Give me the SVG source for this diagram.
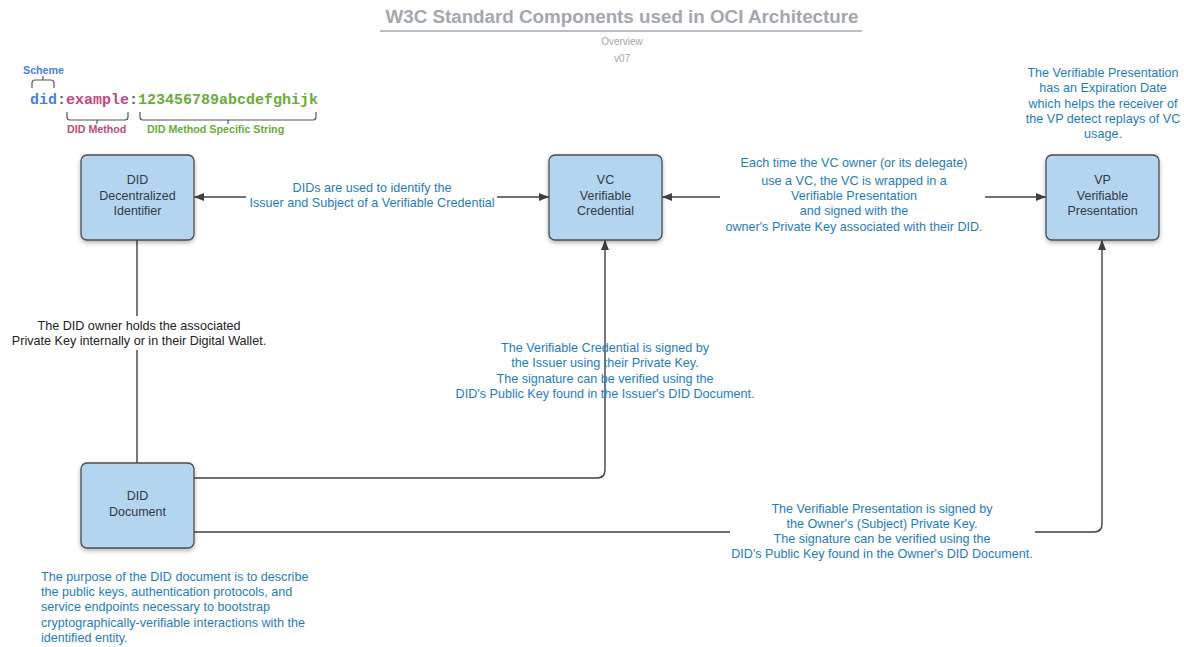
<svg xmlns="http://www.w3.org/2000/svg" width="1184" height="647" viewBox="0 0 1184 647">
<style>
.node{fill:#b3d5f0;stroke:#4a4d52;stroke-width:1.3}
.nt{font-family:"Liberation Sans",Arial,sans-serif;font-size:12.5px;fill:#333a42;text-anchor:middle}
.bt{font-family:"Liberation Sans",Arial,sans-serif;font-size:12.6px;fill:#1f7cc0;text-anchor:middle}
.kt{font-family:"Liberation Sans",Arial,sans-serif;font-size:12.6px;fill:#222;text-anchor:middle}
.ln{fill:none;stroke:#3d3f42;stroke-width:1.4}
.mono{font-family:"Liberation Mono","Courier New",monospace;font-size:15px;font-weight:bold}
.lab{font-family:"Liberation Sans",Arial,sans-serif;font-size:10.7px;font-weight:bold}
.br{fill:none;stroke:#555;stroke-width:1.2}
</style>
<defs>
<marker id="ah" viewBox="0 0 10 10" refX="10" refY="5" markerWidth="10" markerHeight="10" markerUnits="userSpaceOnUse" orient="auto-start-reverse">
<path d="M0,1 L10,5 L0,9 z" fill="#3d3f42"/>
</marker>
<filter id="sh" x="-10%" y="-10%" width="130%" height="130%">
<feDropShadow dx="0" dy="2" stdDeviation="2" flood-color="#000" flood-opacity="0.3"/>
</filter>
</defs>
<rect width="1184" height="647" fill="#fff"/>
<g id="title">
<text x="622" y="23" font-family="'Liberation Sans',Arial,sans-serif" font-size="18.8" font-weight="bold" fill="#a3a7ae" text-anchor="middle">W3C Standard Components used in OCI Architecture</text>
<line x1="380" y1="31" x2="862" y2="31" stroke="#a3a7ae" stroke-width="1.5"/>
<text x="622" y="45" font-family="'Liberation Sans',Arial,sans-serif" font-size="10" fill="#a3a7ae" text-anchor="middle">Overview</text>
<text x="622" y="62" font-family="'Liberation Sans',Arial,sans-serif" font-size="10" fill="#a3a7ae" text-anchor="middle">v07</text>
</g>
<g id="scheme">
<text x="23" y="74" class="lab" fill="#4a7fdc">Scheme</text>
<path class="br" d="M32,88 V83 Q32,80 35,80 H51 Q54,80 54,83 V88 M43,80 V76"/>
<text x="30" y="104" class="mono"><tspan fill="#4a7fdc">did</tspan><tspan fill="#666">:</tspan><tspan fill="#c2477e">example</tspan><tspan fill="#666">:</tspan><tspan fill="#6aab3d">123456789abcdefghijk</tspan></text>
<path class="br" d="M67,112 V117 Q67,120 70,120 H125 Q128,120 128,117 V112 M97,120 V124"/>
<path class="br" d="M140,112 V117 Q140,120 143,120 H313 Q316,120 316,117 V112 M228,120 V124"/>
<text x="67" y="133" class="lab" fill="#c2477e">DID Method</text>
<text x="147" y="133" class="lab" fill="#6aab3d">DID Method Specific String</text>
</g>
<g id="connectors">
<line class="ln" x1="194" y1="197" x2="246" y2="197" marker-start="url(#ah)"/>
<line class="ln" x1="497" y1="197" x2="549" y2="197" marker-end="url(#ah)"/>
<line class="ln" x1="662" y1="197" x2="720" y2="197" marker-start="url(#ah)"/>
<line class="ln" x1="985" y1="197" x2="1046" y2="197" marker-end="url(#ah)"/>
<line class="ln" x1="137" y1="240" x2="137" y2="316"/>
<line class="ln" x1="137" y1="350" x2="137" y2="463"/>
<path class="ln" d="M194,478 H597 Q605,478 605,470 V240" marker-end="url(#ah)"/>
<path class="ln" d="M194,532 H730 M1035,532 H1094 Q1102,532 1102,524 V240" marker-end="url(#ah)"/>
<text class="bt" x="372" y="192">DIDs are used to identify the</text>
<text class="bt" x="372" y="207">Issuer and Subject of a Verifiable Credential</text>
<text class="bt"><tspan x="854" y="167">Each time the VC owner (or its delegate)</tspan><tspan x="854" y="185">use a VC, the VC is wrapped in a</tspan><tspan x="854" y="200">Verifiable Presentation</tspan><tspan x="854" y="215">and signed with the</tspan><tspan x="854" y="231">owner's Private Key associated with their DID.</tspan></text>
<text class="kt"><tspan x="139" y="330">The DID owner holds the associated</tspan><tspan x="139" y="345">Private Key internally or in their Digital Wallet.</tspan></text>
<text class="bt"><tspan x="605" y="352">The Verifiable Credential is signed by</tspan><tspan x="605" y="367">the Issuer using their Private Key.</tspan><tspan x="605" y="383">The signature can be verified using the</tspan><tspan x="605" y="398">DID's Public Key found in the Issuer's DID Document.</tspan></text>
<text class="bt"><tspan x="882" y="513">The Verifiable Presentation is signed by</tspan><tspan x="882" y="528">the Owner's (Subject) Private Key.</tspan><tspan x="882" y="543">The signature can be verified using the</tspan><tspan x="882" y="558">DID's Public Key found in the Owner's DID Document.</tspan></text>
</g>
<g id="node-did">
<rect class="node" x="81" y="155" width="113" height="85" rx="6" filter="url(#sh)"/>
<text class="nt"><tspan x="137.5" y="184">DID</tspan><tspan x="137.5" y="200">Decentralized</tspan><tspan x="137.5" y="215">Identifier</tspan></text>
</g>
<g id="node-vc">
<rect class="node" x="549" y="155" width="113" height="85" rx="6" filter="url(#sh)"/>
<text class="nt"><tspan x="605.5" y="184">VC</tspan><tspan x="605.5" y="200">Verifiable</tspan><tspan x="605.5" y="215">Credential</tspan></text>
</g>
<g id="node-vp">
<rect class="node" x="1046" y="155" width="113" height="85" rx="6" filter="url(#sh)"/>
<text class="nt"><tspan x="1102.5" y="184">VP</tspan><tspan x="1102.5" y="200">Verifiable</tspan><tspan x="1102.5" y="215">Presentation</tspan></text>
</g>
<g id="node-diddoc">
<rect class="node" x="81" y="463" width="113" height="85" rx="6" filter="url(#sh)"/>
<text class="nt"><tspan x="137.5" y="500">DID</tspan><tspan x="137.5" y="516">Document</tspan></text>
</g>
<g id="notes">
<text class="bt"><tspan x="1103" y="77">The Verifiable Presentation</tspan><tspan x="1103" y="92">has an Expiration Date</tspan><tspan x="1103" y="108">which helps the receiver of</tspan><tspan x="1103" y="123">the VP detect replays of VC</tspan><tspan x="1103" y="138">usage.</tspan></text>
<text class="bt" style="text-anchor:start"><tspan x="41" y="581">The purpose of the DID document is to describe</tspan><tspan x="41" y="596">the public keys, authentication protocols, and</tspan><tspan x="41" y="611">service endpoints necessary to bootstrap</tspan><tspan x="41" y="627">cryptographically-verifiable interactions with the</tspan><tspan x="41" y="642">identified entity.</tspan></text>
</g>
</svg>
